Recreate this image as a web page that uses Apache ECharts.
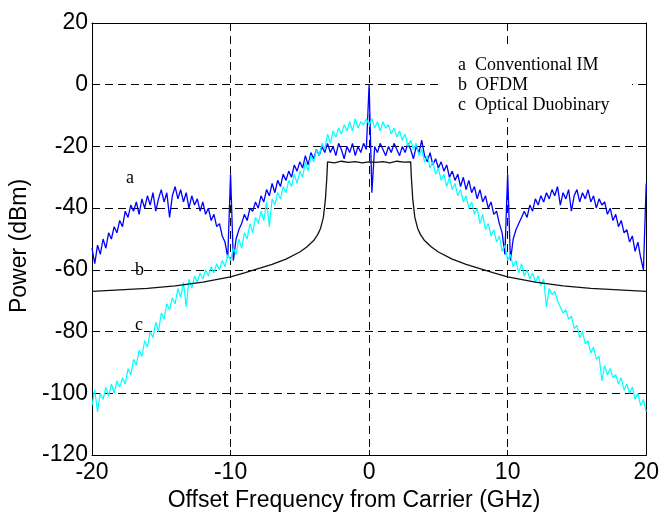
<!DOCTYPE html>
<html>
<head>
<meta charset="utf-8">
<script src="https://cdn.jsdelivr.net/npm/echarts@6/dist/echarts.min.js"></script>
<style>html,body{margin:0;padding:0;background:#fff}#c{width:662px;height:517px}</style>
</head>
<body>
<div id="c"></div>
<script>
// Frequency grid (GHz) for the noisy spectra: -20 .. 20 in 0.2 GHz steps
const freqStart = -20, freqStep = 0.2, freqCount = 201;
const xTicks = [-20, -10, 0, 10, 20];
const yTicks = [-120, -100, -80, -60, -40, -20, 0, 20];

// a: Conventional IM (dBm)
const convIM = [
-53,-58,-52,-55,-50,-53,-48,-50,-46,-48,
-44,-46,-41,-43,-39,-41,-38,-42,-37,-40,
-36,-39,-35,-41,-37,-34,-38,-35,-43,-36,
-33,-37,-34,-38,-35,-40,-36,-39,-37,-41,
-38,-42,-40,-44,-42,-46,-45,-49,-51,-56,
-29,-57,-50,-47,-45,-42,-44,-40,-41,-38,
-40,-36,-38,-34,-36,-32,-35,-31,-33,-29,
-31,-28,-30,-26,-28,-25,-27,-23,-26,-22,
-24,-21,-23,-20,-22,-19,-22,-20,-23,-19,
-21,-24,-20,-22,-19,-23,-20,-22,-19,-21,
0,-35,-20,-22,-19,-21,-23,-20,-22,-19,
-21,-23,-20,-22,-19,-21,-24,-20,-22,-18,
-23,-25,-22,-26,-24,-27,-25,-28,-26,-30,
-28,-31,-29,-33,-30,-34,-31,-35,-33,-37,
-34,-38,-36,-40,-38,-42,-41,-45,-48,-55,
-29,-57,-50,-47,-45,-43,-41,-43,-39,-41,
-37,-39,-36,-38,-35,-37,-34,-36,-33,-39,
-35,-37,-34,-41,-36,-34,-38,-35,-37,-34,
-38,-36,-40,-37,-39,-38,-42,-40,-44,-42,
-46,-44,-48,-47,-51,-49,-54,-51,-56,-60,
-32
];

// c: Optical Duobinary (dBm)
const duobinary = [
-104,-99,-106,-100,-102,-98,-101,-97,-100,-96,
-98,-95,-97,-92,-94,-89,-91,-86,-88,-83,
-85,-80,-82,-77,-80,-74,-76,-71,-73,-69,
-71,-66,-69,-64,-72,-63,-66,-62,-64,-61,
-63,-60,-62,-59,-61,-58,-60,-57,-59,-55,
-57,-53,-55,-50,-53,-48,-50,-45,-48,-43,
-45,-41,-44,-38,-46,-37,-39,-35,-37,-33,
-35,-31,-33,-29,-32,-28,-30,-25,-28,-23,
-25,-21,-23,-19,-21,-16,-19,-15,-17,-14,
-16,-13,-15,-12,-15,-11,-14,-12,-13,-11,
-13,-11,-14,-12,-15,-12,-14,-13,-16,-14,
-17,-15,-18,-16,-20,-18,-21,-19,-23,-21,
-25,-23,-27,-25,-29,-27,-31,-29,-33,-30,
-34,-32,-36,-34,-38,-36,-40,-38,-42,-40,
-45,-42,-47,-45,-49,-47,-51,-49,-54,-52,
-57,-55,-59,-57,-61,-58,-62,-60,-63,-61,
-64,-62,-65,-63,-72,-66,-68,-67,-70,-72,
-74,-73,-76,-75,-79,-78,-82,-80,-84,-83,
-87,-85,-89,-88,-96,-91,-94,-92,-95,-94,
-97,-95,-99,-97,-100,-98,-102,-100,-104,-102,
-106
];

// b: OFDM (smooth curve, own frequency points)
const ofdmFreq = [-20,-18,-16,-14,-12,-10,-9,-8,-7,-6,-5,-4.5,-4,-3.7,-3.5,-3.3,-3.15,-3.05,-3.0,-2.5,-2,-1.5,-1,-0.5,0,0.5,1,1.5,2,2.5,3.0,3.05,3.15,3.3,3.5,3.7,4,4.5,5,6,7,8,9,10,12,14,16,18,20];
const ofdmPower = [-67,-66.5,-66,-65.2,-64,-62.3,-61,-59.6,-58.2,-56.5,-54.2,-52.6,-50.5,-48.5,-46.5,-43,-37,-30,-25,-25.3,-24.8,-25.2,-24.9,-25.3,-25,-25.2,-24.9,-25.3,-24.8,-25.1,-25,-30,-37,-43,-46.5,-48.5,-50.5,-52.6,-54.2,-56.5,-58.2,-59.6,-61,-62.3,-64,-65.2,-66,-66.5,-67];

const seriesNames = ['Conventional IM', 'OFDM', 'Optical Duobinary'];
const seriesLetters = ['a', 'b', 'c'];

const freq = [];
for (let i = 0; i < freqCount; i++) freq.push(+(freqStart + i * freqStep).toFixed(2));
const pairs = (xs, ys) => xs.map((x, i) => [x, ys[i]]);

const chart = echarts.init(document.getElementById('c'), null, {renderer: 'canvas'});
const sansFont = "'Liberation Sans', Arial, sans-serif";
const serifFont = "'Liberation Serif', 'Times New Roman', serif";
const dashed = {show: true, lineStyle: {color: '#000', width: 1, type: [8, 5]}};
const frameLine = {show: true, onZero: false, lineStyle: {color: '#000', width: 1}};
const tickIn = {show: true, inside: true, length: 5, lineStyle: {color: '#000'}};

// Legend block (white box with letter-keyed names)
const legendGraphics = [{type: 'rect', z: 10, shape: {x: 440, y: 46, width: 192, height: 72}, style: {fill: '#fff'}}]
  .concat(seriesNames.map((n, i) => ({
    type: 'text', z: 11, x: 458, y: 65 + 20 * i,
    style: {text: seriesLetters[i] + '  ' + n, font: '18px ' + serifFont, fill: '#000', textAlign: 'left', textVerticalAlign: 'middle'}
  })));

chart.setOption({
  animation: false,
  backgroundColor: '#fff',
  grid: {left: 92, right: 12, top: 23, bottom: 56, containLabel: false},
  xAxis: [{
    type: 'value', min: -20, max: 20, interval: 10,
    name: 'Offset Frequency from Carrier (GHz)', nameLocation: 'middle', nameGap: 34,
    nameTextStyle: {fontFamily: sansFont, fontSize: 23, color: '#000', padding: [0, 30, 0, 0]},
    axisLine: frameLine, axisTick: tickIn, splitLine: dashed,
    axisLabel: {fontFamily: sansFont, fontSize: 23, color: '#000', margin: 6}
  }, {
    type: 'value', min: -20, max: 20, interval: 10, position: 'top',
    axisLine: frameLine, axisTick: tickIn, splitLine: {show: false}, axisLabel: {show: false}
  }],
  yAxis: [{
    type: 'value', min: -120, max: 20, interval: 20,
    name: 'Power (dBm)', nameLocation: 'middle', nameGap: 58,
    nameTextStyle: {fontFamily: sansFont, fontSize: 23, color: '#000', padding: [0, 14, 0, 0]},
    axisLine: frameLine, axisTick: tickIn, splitLine: dashed,
    axisLabel: {fontFamily: sansFont, fontSize: 23, color: '#000', margin: 4}
  }, {
    type: 'value', min: -120, max: 20, interval: 20, position: 'right',
    axisLine: frameLine, axisTick: tickIn, splitLine: {show: false}, axisLabel: {show: false}
  }],
  series: [{
    name: seriesNames[0], type: 'line', data: pairs(freq, convIM),
    showSymbol: false, symbol: 'none', lineStyle: {color: '#0000ff', width: 1.3}, itemStyle: {color: '#0000ff'}, z: 3
  }, {
    name: seriesNames[2], type: 'line', data: pairs(freq, duobinary),
    showSymbol: false, symbol: 'none', lineStyle: {color: '#00ffff', width: 1.2}, itemStyle: {color: '#00ffff'}, z: 4
  }, {
    name: seriesNames[1], type: 'line', data: pairs(ofdmFreq, ofdmPower),
    showSymbol: false, symbol: 'none', lineStyle: {color: '#111', width: 1.3}, itemStyle: {color: '#111'}, z: 5
  }],
  graphic: legendGraphics.concat([
    {type: 'text', left: 126, top: 169, style: {text: 'a', font: '18px ' + serifFont, fill: '#000'}},
    {type: 'text', left: 135, top: 261, style: {text: 'b', font: '18px ' + serifFont, fill: '#000'}},
    {type: 'text', left: 135, top: 316, style: {text: 'c', font: '18px ' + serifFont, fill: '#000'}}
  ])
});
</script>
</body>
</html>
